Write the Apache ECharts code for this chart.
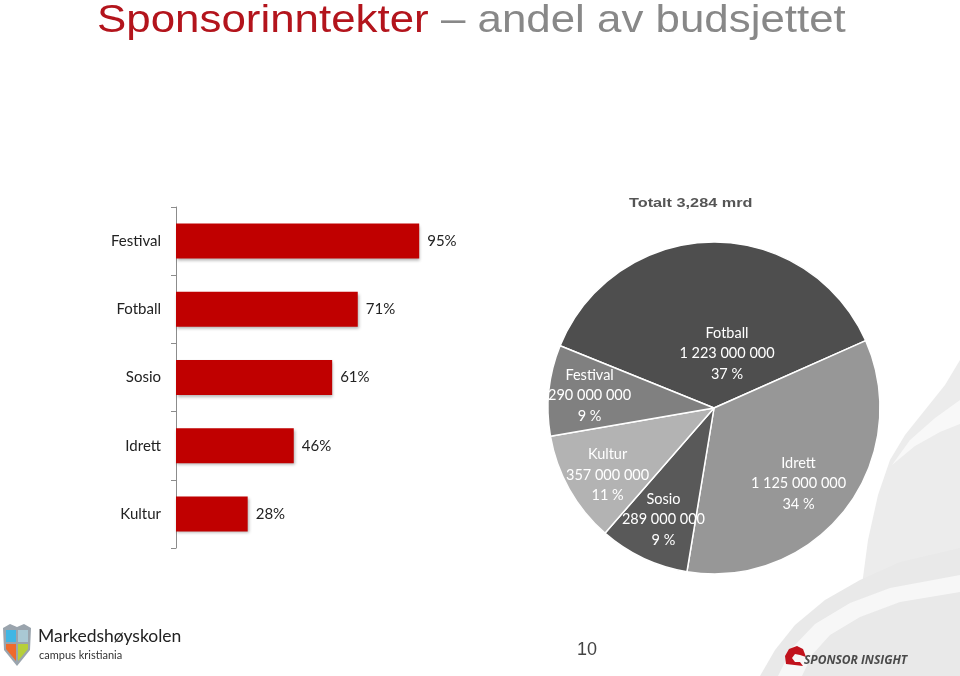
<!DOCTYPE html>
<html>
<head>
<meta charset="utf-8">
<script src="https://cdn.jsdelivr.net/npm/echarts@6/dist/echarts.min.js"></script>
<style>
html,body{margin:0;padding:0;background:#fff;}
#main{width:960px;height:676px;}
</style>
</head>
<body>
<div id="main"></div>
<script>
// ---- data ----
const barCategories = ['Festival', 'Fotball', 'Sosio', 'Idrett', 'Kultur'];
const barValues = [95, 71, 61, 46, 28];
const pieNames = ['Fotball', 'Idrett', 'Sosio', 'Kultur', 'Festival'];
const pieValues = [1223000000, 1125000000, 289000000, 357000000, 290000000];
const totalText = 'Totalt 3,284 mrd';
const pageNumber = '10';

// ---- styles ----
const pieColors = ['#4e4e4e', '#979797', '#595959', '#b3b3b3', '#808080'];
const pieLabelScale = [0.69, 1.36, 1.46, 1.5, 1.49];
const pieLabelNudge = [[14, 5], [-8, 4], [3, -2], [6, 4], [3, 1]];
const pieCenter = [714, 408];
const pieRadius = 166;

function fmtNum(v) {
  return String(v).replace(/\B(?=(\d{3})+(?!\d))/g, ' ');
}

const chart = echarts.init(document.getElementById('main'), null, {renderer: 'canvas'});

const option = {
  backgroundColor: '#ffffff',
  animation: false,
  graphic: [
    // background swoosh (slide template)
    {type: 'polygon', z: -10, shape: {points: [[960,360],[945,385],[925,410],[905,435],[890,460],[878,495],[868,540],[860,600],[854,676],[960,676]]}, style: {fill: '#ececec'}},
    {type: 'polygon', z: -10, shape: {points: [[760,676],[775,650],[795,625],[825,600],[860,580],[900,562],[960,548],[960,676]]}, style: {fill: '#e9e9e9'}},
    {type: 'polygon', z: -9, shape: {points: [[778,676],[792,648],[815,624],[850,603],[890,588],[960,575],[960,592],[900,602],[860,617],[830,635],[812,655],[802,676]]}, style: {fill: '#f7f7f7'}},
    {type: 'polygon', z: -9, shape: {points: [[960,400],[935,418],[910,440],[892,465],[915,446],[940,432],[960,424]]}, style: {fill: '#f8f8f8'}},
    // title
    {type: 'text', left: 97, top: 2, scaleX: 1.125, style: {
      rich: {
        r: {fill: '#b3141c', fontSize: 39, fontFamily: 'Liberation Sans, Arial'},
        g: {fill: '#888888', fontSize: 39, fontFamily: 'Liberation Sans, Arial'}
      },
      text: '{r|Sponsorinntekter}{g| – andel av budsjettet}'
    }},
    // total
    {type: 'text', left: 629, top: 197, scaleX: 1.25, style: {text: totalText, fill: '#555', fontSize: 13, fontWeight: 'bold', fontFamily: 'Liberation Sans, Arial'}},
    // page number
    {type: 'text', left: 577, top: 641, style: {text: pageNumber, fill: '#444', fontSize: 18, fontFamily: 'Liberation Sans, Arial'}},
    // Markedshøyskolen logo
    {type: 'polygon', shape: {points: [[3,628],[10,624],[17,627],[24,624],[31,628],[30,650],[17,666],[4,650]]}, style: {fill: '#9aa4ad'}},
    {type: 'rect', shape: {x: 6, y: 630, width: 10, height: 12}, style: {fill: '#3fb6e4'}},
    {type: 'rect', shape: {x: 18, y: 630, width: 10, height: 12}, style: {fill: '#a9c8d4'}},
    {type: 'polygon', shape: {points: [[6,644],[16,644],[16,661],[6,649]]}, style: {fill: '#ee6a2c'}},
    {type: 'polygon', shape: {points: [[18,644],[28,644],[28,649],[18,661]]}, style: {fill: '#b6cf3a'}},
    {type: 'text', left: 38, top: 627, style: {text: 'Markedshøyskolen', fill: '#222', fontSize: 17.5, fontFamily: 'Lato, Noto Sans, sans-serif'}},
    {type: 'text', left: 39, top: 650, style: {text: 'campus kristiania', fill: '#333', fontSize: 11, fontFamily: 'Lato, Noto Sans, sans-serif'}},
    // Sponsor Insight logo
    {type: 'polygon', shape: {points: [[786,664],[785,656],[789,649],[797,646],[803,649],[806,657],[800,655],[795,654],[792,658],[795,662],[800,662],[803,666]]}, style: {fill: '#c1121c'}},
    {type: 'text', left: 804, top: 655, style: {text: 'SPONSOR INSIGHT', fill: '#4a4a4a', fontSize: 12, fontWeight: 'bold', fontStyle: 'italic', fontFamily: 'Open Sans, Noto Sans, sans-serif'}}
  ],
  grid: {left: 176, top: 207, width: 256, height: 341},
  xAxis: {type: 'value', min: 0, max: 100, show: false},
  yAxis: {
    type: 'category',
    data: barCategories,
    inverse: true,
    axisLine: {show: true, lineStyle: {color: '#8c8c8c', width: 1}},
    axisTick: {show: true, length: 5, lineStyle: {color: '#8c8c8c'}},
    axisLabel: {color: '#222', fontSize: 15, margin: 15, fontFamily: 'Lato, Open Sans, sans-serif'},
    splitLine: {show: false}
  },
  series: [
    {
      type: 'bar',
      data: barValues,
      barWidth: 35,
      itemStyle: {color: '#c00000', shadowBlur: 3, shadowOffsetX: 1, shadowOffsetY: 2, shadowColor: 'rgba(0,0,0,0.3)'},
      label: {show: true, position: 'right', distance: 8, formatter: '{c}%', color: '#222', fontSize: 15, fontFamily: 'Lato, Open Sans, sans-serif'}
    },
    {
      type: 'pie',
      center: pieCenter,
      radius: pieRadius,
      startAngle: 158,
      clockwise: true,
      data: pieNames.map((n, i) => ({name: n, value: pieValues[i], itemStyle: {color: pieColors[i]}})),
      itemStyle: {borderColor: '#ffffff', borderWidth: 1.5},
      label: {
        show: true,
        position: 'inside',
        color: '#ffffff',
        fontSize: 14.5,
        lineHeight: 20.5,
        fontFamily: 'Lato, Open Sans, sans-serif',
        formatter: p => p.name + '\n' + fmtNum(p.value) + '\n' + Math.round(p.percent) + ' %'
      },
      labelLayout: function (params) {
        const r = params.labelRect;
        const lx = r.x + r.width / 2, ly = r.y + r.height / 2;
        const f = pieLabelScale[params.dataIndex];
        const n = pieLabelNudge[params.dataIndex];
        return {dx: (lx - pieCenter[0]) * (f - 1) + n[0], dy: (ly - pieCenter[1]) * (f - 1) + n[1]};
      },
      emphasis: {disabled: true}
    }
  ]
};
chart.setOption(option);
</script>
</body>
</html>
